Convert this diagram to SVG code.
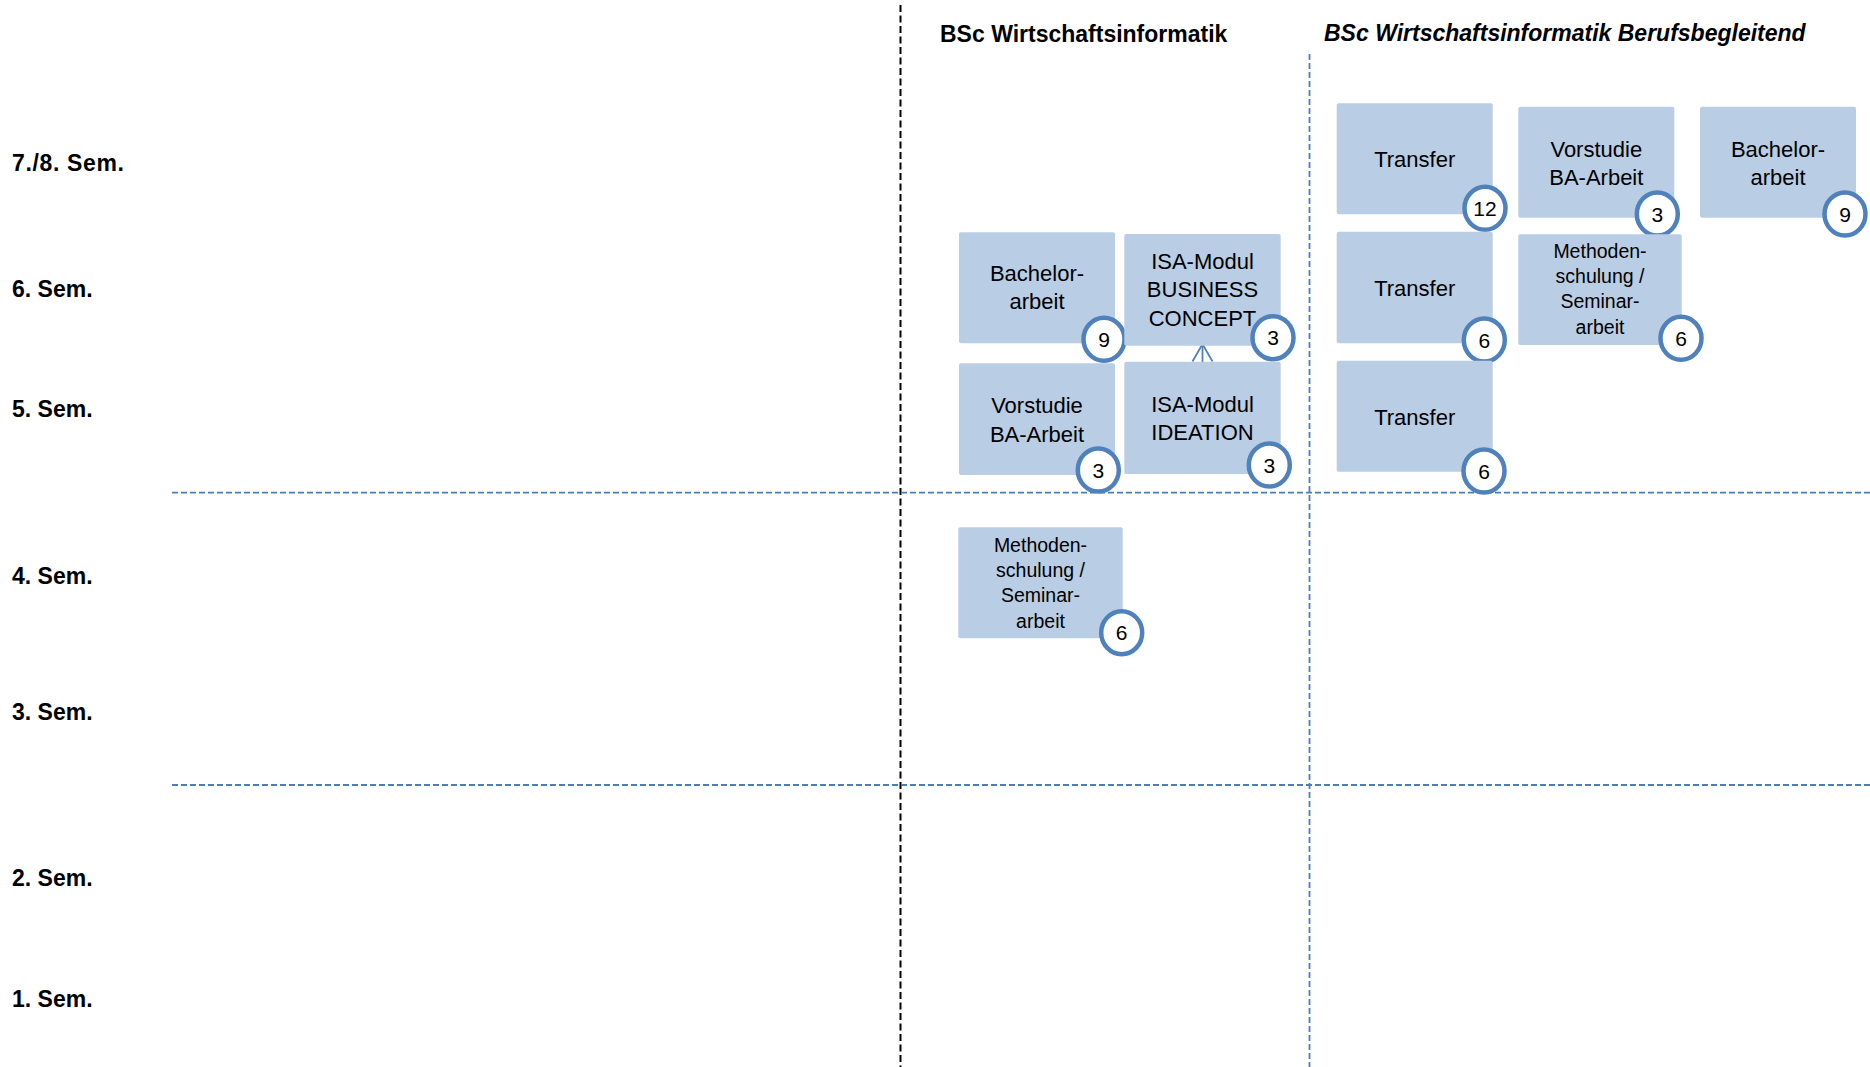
<svg xmlns="http://www.w3.org/2000/svg" width="1870" height="1067" viewBox="0 0 1870 1067">
<style>
text{font-family:"Liberation Sans",Arial,sans-serif;fill:#000}
.lbl{font-size:23px;font-weight:bold}
.hdr{font-size:23px;font-weight:bold}
.box{fill:#b9cde5}
.t{font-size:22px;text-anchor:middle}
.ts{font-size:19.5px;text-anchor:middle}
.badge{fill:#fff;stroke:#4f81bd;stroke-width:4.5}
.num{font-size:21px;text-anchor:middle}
.bdash{stroke:#4a7ebb;stroke-width:1.8;stroke-dasharray:6 3;fill:none}
.kdash{stroke:#000;stroke-width:2;stroke-dasharray:7 3.5;fill:none}
.arr{stroke:#4f81bd;stroke-width:1.8;fill:none}
</style>
<rect width="1870" height="1067" fill="#fff"/>
<g id="grid">
<line class="kdash" x1="900.5" y1="5" x2="900.5" y2="1067"/>
<line class="bdash" x1="1309.5" y1="54" x2="1309.5" y2="1067"/>
<line class="bdash" x1="172" y1="492.7" x2="1870" y2="492.7"/>
<line class="bdash" x1="172" y1="785" x2="1870" y2="785"/>
</g>
<g id="labels">
<text class="lbl" x="12" y="171" textLength="112" lengthAdjust="spacing">7./8. Sem.</text>
<text class="lbl" x="12" y="296.7">6. Sem.</text>
<text class="lbl" x="12" y="417.4">5. Sem.</text>
<text class="lbl" x="12" y="584">4. Sem.</text>
<text class="lbl" x="12" y="719.7">3. Sem.</text>
<text class="lbl" x="12" y="886">2. Sem.</text>
<text class="lbl" x="12" y="1007.4">1. Sem.</text>
<text class="hdr" x="940" y="41.5">BSc Wirtschaftsinformatik</text>
<text class="hdr" x="1324" y="41.3" font-style="italic">BSc Wirtschaftsinformatik Berufsbegleitend</text>
</g>
<g id="connectors">
<line class="arr" x1="1202.5" y1="365" x2="1202.5" y2="344.5"/>
<polyline class="arr" points="1192.5,361.5 1202.5,344 1212.5,361.5"/>
</g>
<g id="n-bachelor-l">
<rect class="box" x="959" y="232.3" width="156" height="111" rx="2"/>
<text class="t" x="1037" y="281">Bachelor-</text>
<text class="t" x="1037" y="309.3">arbeit</text>
<ellipse class="badge" cx="1104" cy="339.3" rx="20.5" ry="21.5"/>
<text class="num" x="1104" y="346.8">9</text>
</g>
<g id="n-business">
<rect class="box" x="1124.3" y="234" width="156.4" height="111.7" rx="2"/>
<text class="t" x="1202.5" y="269">ISA-Modul</text>
<text class="t" x="1202.5" y="297.3">BUSINESS</text>
<text class="t" x="1202.5" y="325.7">CONCEPT</text>
<ellipse class="badge" cx="1273" cy="337.7" rx="20.5" ry="21.5"/>
<text class="num" x="1273" y="345.2">3</text>
</g>
<g id="n-vorstudie-l">
<rect class="box" x="959" y="363.3" width="156" height="111.7" rx="2"/>
<text class="t" x="1037" y="413.3">Vorstudie</text>
<text class="t" x="1037" y="441.7">BA-Arbeit</text>
<ellipse class="badge" cx="1098.3" cy="470" rx="20.5" ry="21.5"/>
<text class="num" x="1098.3" y="477.5">3</text>
</g>
<g id="n-ideation">
<rect class="box" x="1124.3" y="361.7" width="156.4" height="112.3" rx="2"/>
<text class="t" x="1202.5" y="412.3">ISA-Modul</text>
<text class="t" x="1202.5" y="440">IDEATION</text>
<ellipse class="badge" cx="1269.3" cy="465" rx="20.5" ry="21.5"/>
<text class="num" x="1269.3" y="472.5">3</text>
</g>
<g id="n-methoden-l">
<rect class="box" x="958.3" y="527.3" width="164.4" height="111" rx="2"/>
<text class="ts" x="1040.5" y="551.7">Methoden-</text>
<text class="ts" x="1040.5" y="576.5">schulung /</text>
<text class="ts" x="1040.5" y="601.7">Seminar-</text>
<text class="ts" x="1040.5" y="628.3">arbeit</text>
<ellipse class="badge" cx="1121.7" cy="632.7" rx="20.5" ry="21.5"/>
<text class="num" x="1121.7" y="640.2">6</text>
</g>
<g id="n-transfer-1">
<rect class="box" x="1336.7" y="103.3" width="156" height="111" rx="2"/>
<text class="t" x="1414.7" y="167.3">Transfer</text>
<ellipse class="badge" cx="1485" cy="208.3" rx="20.5" ry="21.5"/>
<text class="num" x="1485" y="215.8">12</text>
</g>
<g id="n-transfer-2">
<rect class="box" x="1336.7" y="231.7" width="156" height="111.6" rx="2"/>
<text class="t" x="1414.7" y="296">Transfer</text>
<ellipse class="badge" cx="1484.3" cy="340" rx="20.5" ry="21.5"/>
<text class="num" x="1484.3" y="347.5">6</text>
</g>
<g id="n-transfer-3">
<rect class="box" x="1336.7" y="360.7" width="156" height="111" rx="2"/>
<text class="t" x="1414.7" y="424.5">Transfer</text>
<ellipse class="badge" cx="1484" cy="471" rx="20.5" ry="21.5"/>
<text class="num" x="1484" y="478.5">6</text>
</g>
<g id="n-vorstudie-r">
<rect class="box" x="1518.3" y="106.7" width="156" height="111" rx="2"/>
<text class="t" x="1596.3" y="156.7">Vorstudie</text>
<text class="t" x="1596.3" y="185">BA-Arbeit</text>
<ellipse class="badge" cx="1657.3" cy="214" rx="20.5" ry="21.5"/>
<text class="num" x="1657.3" y="221.5">3</text>
</g>
<g id="n-methoden-r">
<rect class="box" x="1518.3" y="234.3" width="163.4" height="110.7" rx="2"/>
<text class="ts" x="1600" y="258.3">Methoden-</text>
<text class="ts" x="1600" y="283.3">schulung /</text>
<text class="ts" x="1600" y="308.3">Seminar-</text>
<text class="ts" x="1600" y="334.3">arbeit</text>
<ellipse class="badge" cx="1681" cy="338.3" rx="20.5" ry="21.5"/>
<text class="num" x="1681" y="345.8">6</text>
</g>
<g id="n-bachelor-r">
<rect class="box" x="1700" y="106.7" width="156" height="111" rx="2"/>
<text class="t" x="1778" y="156.7">Bachelor-</text>
<text class="t" x="1778" y="185">arbeit</text>
<ellipse class="badge" cx="1845" cy="214" rx="20.5" ry="21.5"/>
<text class="num" x="1845" y="221.5">9</text>
</g>
</svg>
